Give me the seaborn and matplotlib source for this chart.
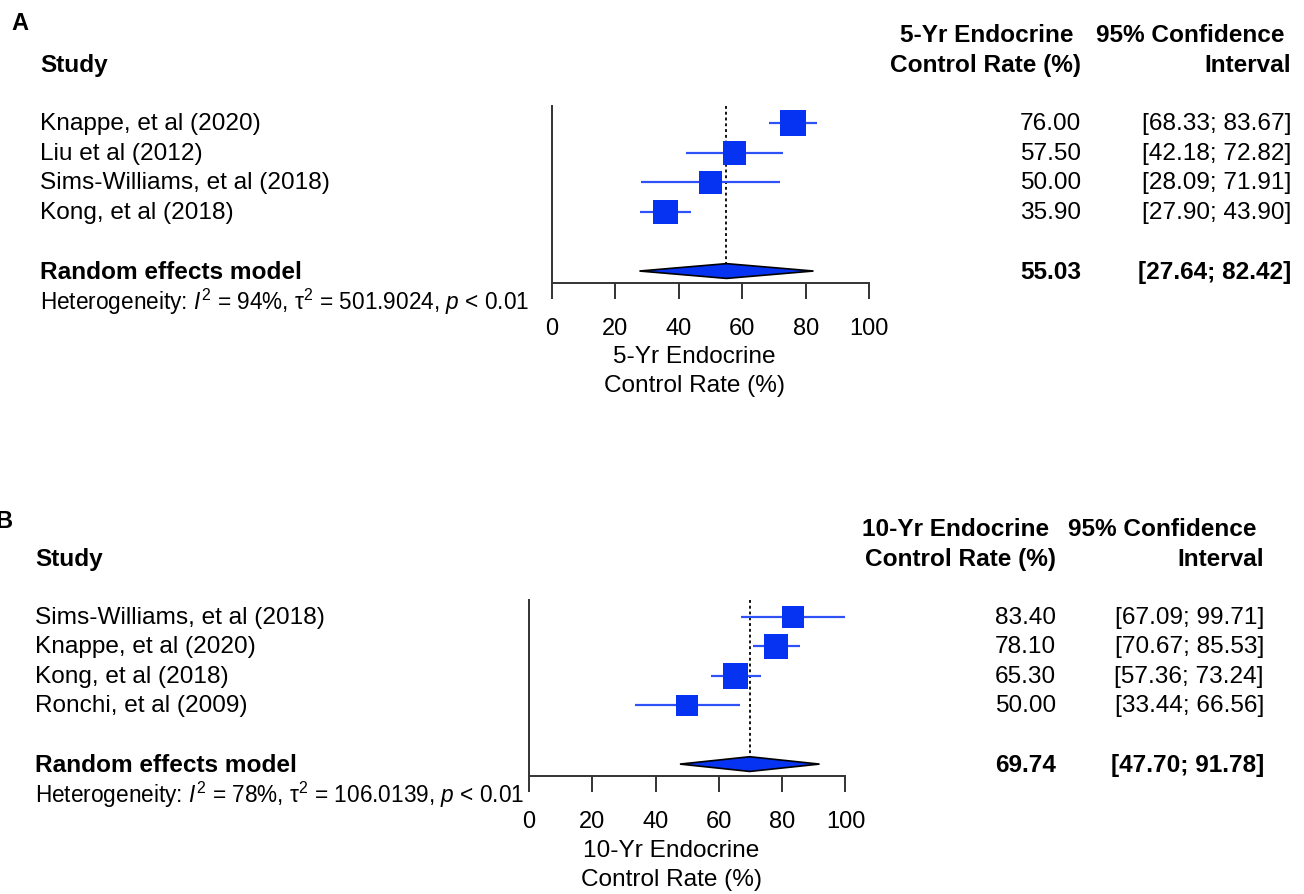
import matplotlib
matplotlib.use("Agg")
import matplotlib.pyplot as plt
import matplotlib.transforms as mtransforms
from matplotlib.patches import Polygon
import seaborn as sns
import pandas as pd
import numpy as np

# ---------------- Data: panel A (5-year) ----------------
studies_a = ["Knappe, et al (2020)", "Liu et al (2012)",
             "Sims-Williams, et al (2018)", "Kong, et al (2018)"]
est_a = [76.00, 57.50, 50.00, 35.90]
lo_a = [68.33, 42.18, 28.09, 27.90]
hi_a = [83.67, 72.82, 71.91, 43.90]
weight_a = [28.1, 23.9, 22.0, 26.0]
summary_a = [55.03, 27.64, 82.42]
het_a = r"Heterogeneity: $I^2$ = 94%, $\mathrm{\tau}^2$ = 501.9024, $p$ < 0.01"
header_a = ["5-Yr Endocrine", "Control Rate (%)"]
xlabel_a = "5-Yr Endocrine\nControl Rate (%)"

# ---------------- Data: panel B (10-year) ----------------
studies_b = ["Sims-Williams, et al (2018)", "Knappe, et al (2020)",
             "Kong, et al (2018)", "Ronchi, et al (2009)"]
est_b = [83.40, 78.10, 65.30, 50.00]
lo_b = [67.09, 70.67, 57.36, 33.44]
hi_b = [99.71, 85.53, 73.24, 66.56]
weight_b = [20.7, 27.8, 30.2, 21.3]
summary_b = [69.74, 47.70, 91.78]
het_b = r"Heterogeneity: $I^2$ = 78%, $\mathrm{\tau}^2$ = 106.0139, $p$ < 0.01"
header_b = ["10-Yr Endocrine", "Control Rate (%)"]
xlabel_b = "10-Yr Endocrine\nControl Rate (%)"

ci_header = ["95% Confidence", "Interval"]
model_label = "Random effects model"
study_header = "Study"
xticks = [0, 20, 40, 60, 80, 100]

# ---------------- Style ----------------
W, H = 1304, 895
sns.set_theme(style="ticks")
plt.rcParams["font.family"] = ["Liberation Sans", "DejaVu Sans"]
plt.rcParams["mathtext.fontset"] = "custom"
plt.rcParams["mathtext.rm"] = "Liberation Sans"
plt.rcParams["mathtext.it"] = "Liberation Sans:italic"
plt.rcParams["mathtext.bf"] = "Liberation Sans:bold"
plt.rcParams["text.color"] = "black"
plt.rcParams["axes.labelcolor"] = "black"
plt.rcParams["xtick.color"] = "black"

FS = 17.6
FS_TICK = 17
FS_HET = 16.3
SQ = "#0633F2"
LN = "#2E52F7"
AXC = "#333333"

fig = plt.figure(figsize=(W / 100, H / 100), dpi=100)


def add_axes(left, right, top, bottom):
    return fig.add_axes([left / W, 1 - bottom / H, (right - left) / W, (bottom - top) / H])


def panel(ax, studies, est, lo, hi, w, summ, het, header, xlabel, lay):
    n = len(studies)
    rows = np.arange(n)
    srow = n + 1
    df = pd.DataFrame({"study": studies, "est": est, "row": rows, "w": w})

    ytop = lay["ytop"]
    ax.set_xlim(0, 100)
    ax.set_ylim(ytop + 5.985, ytop)

    # confidence interval lines
    ax.hlines(rows, lo, hi, color=LN, lw=1.6, zorder=2)
    # study squares (area proportional to weight)
    sns.scatterplot(data=df, x="est", y="row", size="w", sizes=(0, 340),
                    size_norm=(0, max(w)), marker="s", color=SQ,
                    linewidth=0, legend=False, ax=ax, zorder=3, clip_on=False)
    # dotted line at pooled estimate
    ax.vlines(summ[0], ytop, srow - 0.25, colors="black",
              linestyles=(0, (1.6, 1.6)), lw=1.3, zorder=1)
    # summary diamond
    d = Polygon([(summ[1], srow), (summ[0], srow - 0.25),
                 (summ[2], srow), (summ[0], srow + 0.25)],
                closed=True, facecolor=SQ, edgecolor="black", lw=1.2, zorder=4,
                clip_on=False)
    ax.add_patch(d)

    sns.despine(ax=ax)
    for sp in ("left", "bottom"):
        ax.spines[sp].set_color(AXC)
        ax.spines[sp].set_linewidth(1.4)
    ax.set_yticks([])
    ax.set_ylabel("")
    ax.set_xticks(xticks)
    ax.set_xticklabels([str(t) for t in xticks])
    ax.tick_params(axis="x", length=11.5, width=1.4, color=AXC, pad=13,
                   labelsize=FS_TICK, labelcolor="black")
    ax.set_xlabel(xlabel, fontsize=FS, linespacing=1.42, color="black")
    ax.xaxis.set_label_coords(0.45, lay["xlab_y"])

    tr = mtransforms.blended_transform_factory(fig.transFigure, ax.transData)
    tx = lay["text_x"] / W
    ex = lay["est_x"] / W
    cx = lay["ci_x"] / W
    sh = lay["shift"] / W
    kw = dict(transform=tr, va="center", fontsize=FS, color="black")

    ax.text(tx, -2, study_header, ha="left", fontweight="bold", **kw)
    ax.text(ex - sh, -3, header[0], ha="right", fontweight="bold", **kw)
    ax.text(ex, -2, header[1], ha="right", fontweight="bold", **kw)
    ax.text(cx - sh, -3, ci_header[0], ha="right", fontweight="bold", **kw)
    ax.text(cx, -2, ci_header[1], ha="right", fontweight="bold", **kw)

    for r, s, e, l, h in zip(rows, studies, est, lo, hi):
        ax.text(tx, r, s, ha="left", **kw)
        ax.text(ex, r, f"{e:.2f}", ha="right", **kw)
        ax.text(cx, r, f"[{l:.2f}; {h:.2f}]", ha="right", **kw)

    ax.text(tx, srow, model_label, ha="left", fontweight="bold", **kw)
    ax.text(ex, srow, f"{summ[0]:.2f}", ha="right", fontweight="bold", **kw)
    ax.text(cx, srow, f"[{summ[1]:.2f}; {summ[2]:.2f}]", ha="right",
            fontweight="bold", **kw)
    kw2 = dict(kw)
    kw2["fontsize"] = FS_HET
    ax.text(tx, srow + 1, het, ha="left", **kw2)


ax_a = add_axes(551.7, 869.3, 107, 284)
panel(ax_a, studies_a, est_a, lo_a, hi_a, weight_a, summary_a, het_a,
      header_a, xlabel_a,
      dict(text_x=40, est_x=1081, ci_x=1291, shift=7, xlab_y=-0.35, ytop=-0.58))

ax_b = add_axes(529, 845.5, 601, 777)
panel(ax_b, studies_b, est_b, lo_b, hi_b, weight_b, summary_b, het_b,
      header_b, xlabel_b,
      dict(text_x=35, est_x=1056, ci_x=1264, shift=7, xlab_y=-0.36, ytop=-0.58))

fig.text(20 / W, 1 - 24 / H, "A", ha="center", va="center",
         fontsize=17, fontweight="bold")
fig.text(4 / W, 1 - 521 / H, "B", ha="center", va="center",
         fontsize=17, fontweight="bold")

fig.savefig("out.png", dpi=100, facecolor="white")
